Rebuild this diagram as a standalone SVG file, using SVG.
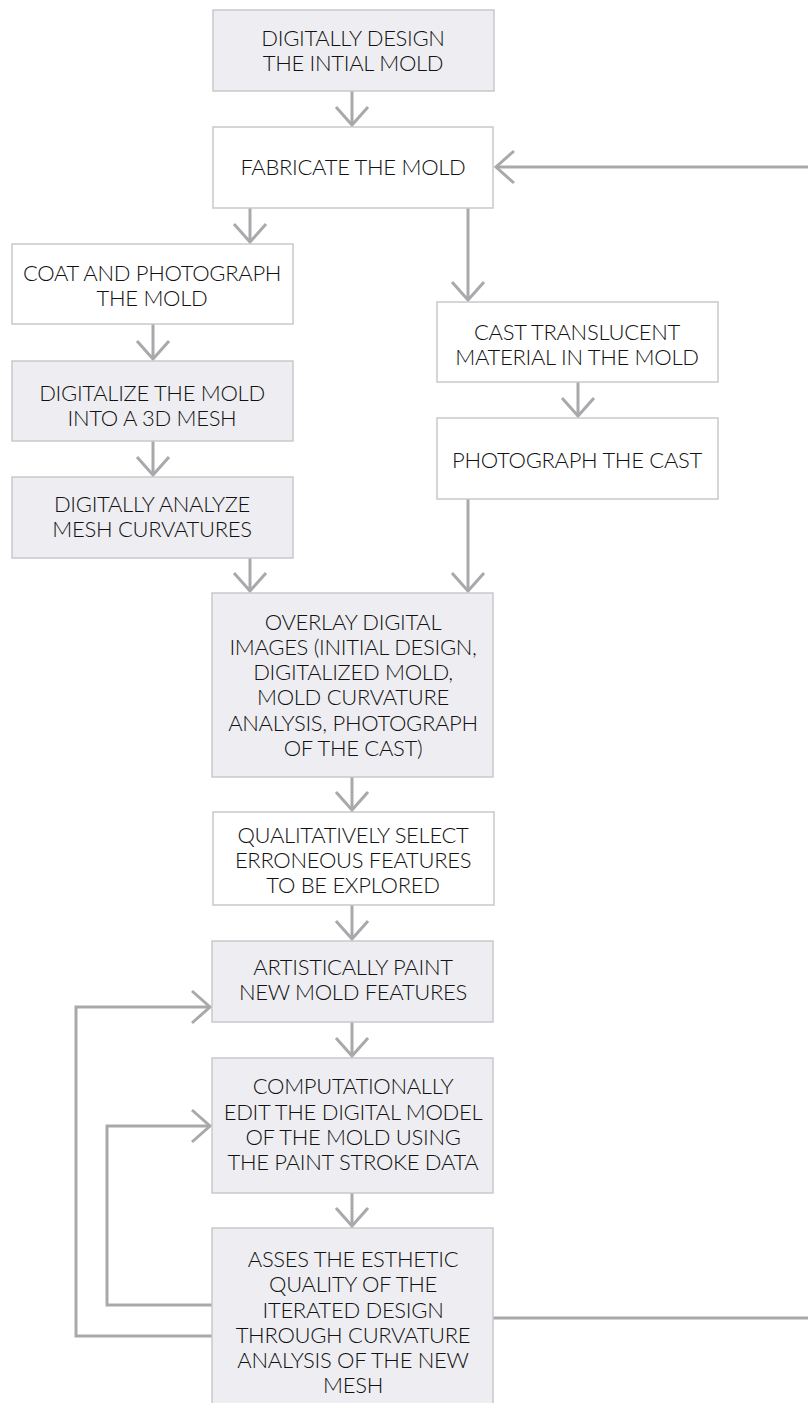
<svg xmlns="http://www.w3.org/2000/svg" width="808" height="1403" viewBox="0 0 808 1403">
<style>
.box{stroke:#c9c9cb;stroke-width:1.5}
.g{fill:#eeeef2}
.w{fill:#ffffff}
text{font-family:"Lato","Open Sans","Liberation Sans",sans-serif;font-weight:300;font-size:22px;fill:#111;text-anchor:middle;letter-spacing:-0.3px}
.c{fill:none;stroke:#a9a9ac;stroke-width:3}
</style>
<defs>
<marker id="ah" markerUnits="userSpaceOnUse" orient="auto" refX="0" refY="0" markerWidth="40" markerHeight="40" viewBox="-20 -20 40 40" overflow="visible">
<path d="M-18,-16 L0,0 L-18,16" fill="none" stroke="#a9a9ac" stroke-width="3"/>
</marker>
</defs>
<rect width="808" height="1403" fill="#fff"/>
<g id="connectors">
<path class="c" d="M352,91 V125" marker-end="url(#ah)"/>
<path class="c" d="M250,208 V242" marker-end="url(#ah)"/>
<path class="c" d="M468,208 V300" marker-end="url(#ah)"/>
<path class="c" d="M153,324 V359" marker-end="url(#ah)"/>
<path class="c" d="M153,441 V475" marker-end="url(#ah)"/>
<path class="c" d="M578,382 V416" marker-end="url(#ah)"/>
<path class="c" d="M250,558 V591" marker-end="url(#ah)"/>
<path class="c" d="M468,499 V591" marker-end="url(#ah)"/>
<path class="c" d="M352,777 V810" marker-end="url(#ah)"/>
<path class="c" d="M352,905 V939" marker-end="url(#ah)"/>
<path class="c" d="M352,1022 V1056" marker-end="url(#ah)"/>
<path class="c" d="M352,1193 V1226" marker-end="url(#ah)"/>
<path class="c" d="M212,1336 H76 V1007 H210" marker-end="url(#ah)"/>
<path class="c" d="M212,1305 H107 V1126 H210" marker-end="url(#ah)"/>
<path class="c" d="M493,1318 H840 V167 H496" marker-end="url(#ah)"/>
</g>
<g id="n1"><rect class="box g" x="213" y="10" width="281" height="81"/><text x="353" y="46">DIGITALLY DESIGN</text><text x="353" y="71">THE INTIAL MOLD</text></g>
<g id="n2"><rect class="box w" x="213" y="127" width="280" height="81"/><text x="353" y="175">FABRICATE THE MOLD</text></g>
<g id="n3"><rect class="box w" x="12" y="244" width="281" height="80"/><text x="152" y="281">COAT AND PHOTOGRAPH</text><text x="152" y="306">THE MOLD</text></g>
<g id="n4"><rect class="box g" x="12" y="361" width="281" height="80"/><text x="152" y="401">DIGITALIZE THE MOLD</text><text x="152" y="426">INTO A 3D MESH</text></g>
<g id="n5"><rect class="box g" x="12" y="477" width="281" height="81"/><text x="152" y="512">DIGITALLY ANALYZE</text><text x="152" y="537">MESH CURVATURES</text></g>
<g id="n6"><rect class="box w" x="437" y="302" width="281" height="80"/><text x="577" y="340">CAST TRANSLUCENT</text><text x="577" y="365">MATERIAL IN THE MOLD</text></g>
<g id="n7"><rect class="box w" x="437" y="418" width="281" height="81"/><text x="577" y="468">PHOTOGRAPH THE CAST</text></g>
<g id="n8"><rect class="box g" x="212" y="593" width="281" height="184"/><text x="353" y="630">OVERLAY DIGITAL</text><text x="353" y="655">IMAGES (INITIAL DESIGN,</text><text x="353" y="680">DIGITALIZED MOLD,</text><text x="353" y="705">MOLD CURVATURE</text><text x="353" y="731">ANALYSIS, PHOTOGRAPH</text><text x="353" y="756">OF THE CAST)</text></g>
<g id="n9"><rect class="box w" x="213" y="812" width="281" height="93"/><text x="353" y="843">QUALITATIVELY SELECT</text><text x="353" y="868">ERRONEOUS FEATURES</text><text x="353" y="893">TO BE EXPLORED</text></g>
<g id="n10"><rect class="box g" x="212" y="941" width="281" height="81"/><text x="353" y="975">ARTISTICALLY PAINT</text><text x="353" y="1000">NEW MOLD FEATURES</text></g>
<g id="n11"><rect class="box g" x="212" y="1058" width="281" height="135"/><text x="353" y="1094">COMPUTATIONALLY</text><text x="353" y="1120">EDIT THE DIGITAL MODEL</text><text x="353" y="1145">OF THE MOLD USING</text><text x="353" y="1170">THE PAINT STROKE DATA</text></g>
<g id="n12"><rect class="box g" x="212" y="1228" width="281" height="190"/><text x="353" y="1267">ASSES THE ESTHETIC</text><text x="353" y="1292">QUALITY OF THE</text><text x="353" y="1318">ITERATED DESIGN</text><text x="353" y="1343">THROUGH CURVATURE</text><text x="353" y="1368">ANALYSIS OF THE NEW</text><text x="353" y="1393">MESH</text></g>
</svg>
